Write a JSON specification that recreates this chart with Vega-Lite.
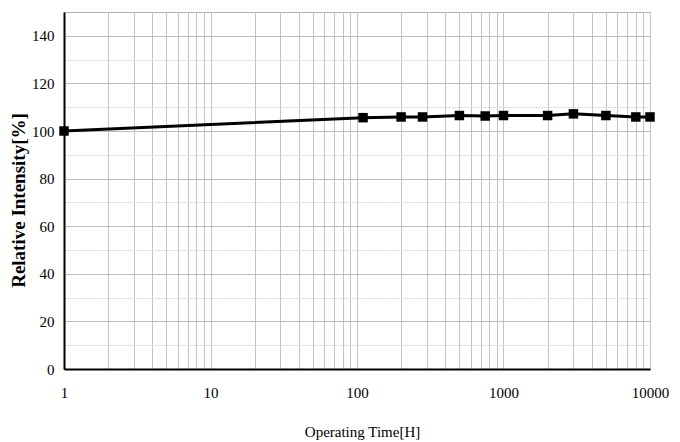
{
  "$schema": "https://vega.github.io/schema/vega-lite/v6.json",
  "width": 586,
  "height": 357,
  "autosize": "none",
  "padding": {"left": 64, "top": 12, "right": 30, "bottom": 73},
  "background": "white",
  "config": {
    "view": {"stroke": "#b0b0b0", "strokeWidth": 1},
    "font": "Liberation Serif"
  },
  "data": {
    "values": [
      {"hours": 1, "intensity": 100},
      {"hours": 110, "intensity": 105.6},
      {"hours": 200, "intensity": 105.9},
      {"hours": 280, "intensity": 105.9},
      {"hours": 500, "intensity": 106.5},
      {"hours": 750, "intensity": 106.3},
      {"hours": 1000, "intensity": 106.5},
      {"hours": 2000, "intensity": 106.5},
      {"hours": 3000, "intensity": 107.2},
      {"hours": 5000, "intensity": 106.5},
      {"hours": 8000, "intensity": 105.9},
      {"hours": 10000, "intensity": 105.9}
    ]
  },
  "encoding": {
    "x": {
      "field": "hours",
      "type": "quantitative",
      "scale": {"type": "log", "domain": [1, 10000], "nice": false},
      "axis": {
        "title": "Operating Time[H]",
        "titleFont": "Liberation Serif",
        "titleFontWeight": "normal",
        "titleFontSize": 15,
        "titleColor": "#000",
        "titlePadding": 24,
        "titleX": 298,
        "values": [1,2,3,4,5,6,7,8,9,10,20,30,40,50,60,70,80,90,100,200,300,400,500,600,700,800,900,1000,2000,3000,4000,5000,6000,7000,8000,9000,10000],
        "labelExpr": "indexof([1,10,100,1000,10000], datum.value) >= 0 ? format(datum.value, 'd') : ''",
        "labelFont": "Liberation Serif",
        "labelFontSize": 15,
        "labelColor": "#000",
        "labelPadding": 16,
        "labelFlush": false,
        "labelOverlap": false,
        "ticks": false,
        "domainColor": "#000",
        "domainWidth": 2,
        "gridColor": "#c4c4c4",
        "gridWidth": 1
      }
    },
    "y": {
      "field": "intensity",
      "type": "quantitative",
      "scale": {"domain": [0, 150], "nice": false},
      "axis": {
        "title": "Relative Intensity[%]",
        "titleFont": "Liberation Serif",
        "titleFontWeight": "bold",
        "titleFontSize": 19,
        "titleColor": "#000",
        "titleBaseline": "middle",
        "titleX": -46,
        "titleY": 188,
        "values": [0,10,20,30,40,50,60,70,80,90,100,110,120,130,140],
        "labelExpr": "datum.value % 20 == 0 ? format(datum.value, 'd') : ''",
        "labelFont": "Liberation Serif",
        "labelFontSize": 15,
        "labelColor": "#000",
        "labelPadding": 10,
        "ticks": false,
        "domainColor": "#000",
        "domainWidth": 2,
        "gridColor": {"condition": {"test": "datum.value % 20 != 0", "value": "#d6d6d6"}, "value": "#bdbdbd"},
        "gridDash": {"condition": {"test": "datum.value % 20 != 0", "value": [2, 1]}, "value": []},
        "gridWidth": 1
      }
    }
  },
  "layer": [
    {"mark": {"type": "line", "color": "#000", "strokeWidth": 3}},
    {"mark": {"type": "square", "color": "#000", "filled": true, "opacity": 1, "size": 90}}
  ]
}
